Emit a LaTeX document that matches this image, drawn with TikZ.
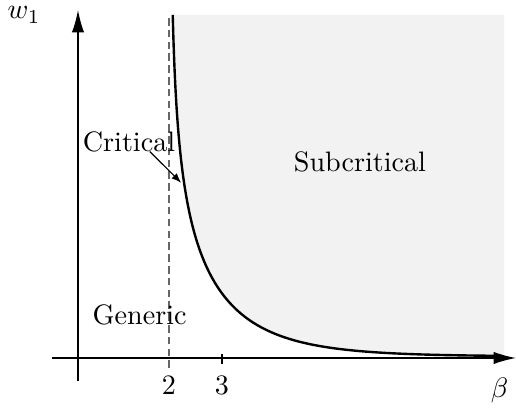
\documentclass[tikz,border=0pt]{standalone}
\usetikzlibrary{arrows.meta}
\begin{document}
\begin{tikzpicture}[
	axis/.style={ line width=0.5pt, -{Latex[length=8pt,width=4.4pt]} },
	asymptote/.style={ black!60, line width=0.5pt, dash pattern=on 2.7pt off 1.5pt },
	boundary/.style={ line width=0.85pt },
	pointer/.style={ line width=0.4pt, -{Latex[length=3.5pt,width=2.6pt]} },
	region/.style={ anchor=base, inner sep=0pt }
]
\useasboundingbox (-0.975,-0.6125) rectangle (5.475,4.475);

% boundary w_1(beta), parameter t with beta-2 = t^2
\def\critline{plot[domain=0.2156:2.0402, samples=120, variable=\t, smooth]
  ({1.1375+\t*\t}, {0.02+1.466*exp(-0.732*ln(\t))*exp(-1.1655*\t*\t)})}

\fill[black!5] \critline -- (5.325,0.027) -- (5.325,4.2875) -- cycle;

\draw[asymptote] (1.1375,-0.125) -- (1.1375,4.2875);
\draw[axis] (-0.325,0) -- (5.475,0);
\draw[axis] (0,-0.2875) -- (0,4.35);
\draw[line width=0.5pt] (1.8,-0.075) -- (1.8,0.05);

\draw[boundary] \critline;

\node at (-0.675,4.24) (w) [region] {$w_1$};
\node at (5.27,-0.49) (beta) [region] {$\beta$};
\node at (1.1375,-0.4625) (two) [region] {$2$};
\node at (1.8,-0.4625) (three) [region] {$3$};
\node at (0.6375,2.58) (crit) [region] {Critical};
\node at (3.525,2.325) (sub) [region] {Subcritical};
\node at (0.77,0.4125) (gen) [region] {Generic};
\coordinate (critpt) at (1.29,2.19);
\draw[pointer] ([xshift=0.26cm]crit.base) -- (critpt);

\end{tikzpicture}
\end{document}
